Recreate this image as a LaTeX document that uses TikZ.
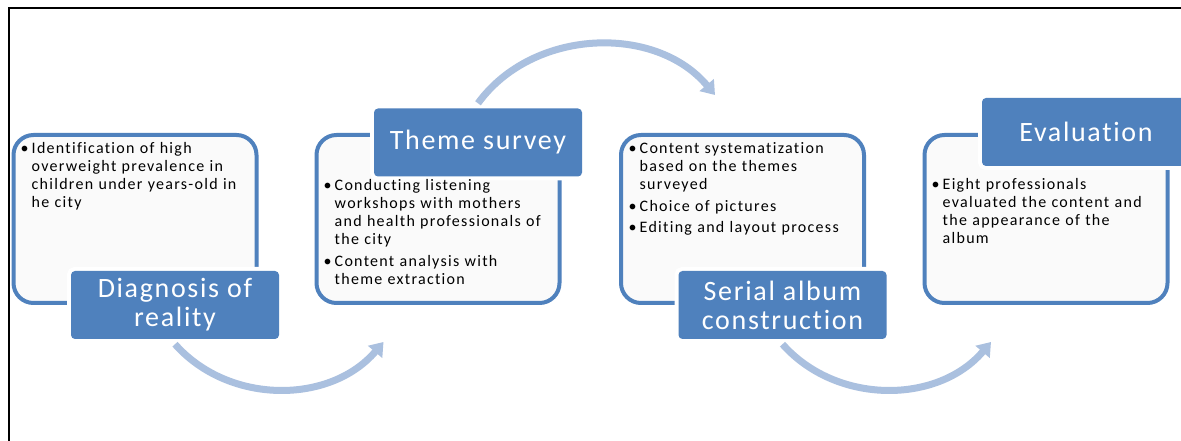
\documentclass[tikz,border=0pt]{standalone}
\usepackage{fontspec}
\usetikzlibrary{arrows.meta, positioning}
\definecolor{stepblue}{RGB}{79, 129, 189}
\definecolor{flowblue}{RGB}{170, 192, 223}
\definecolor{panelfill}{RGB}{250, 250, 250}
\newfontfamily\bodyfont[LetterSpace=8, RawFeature=-liga]{Carlito}
\newfontfamily\headfont[LetterSpace=6, RawFeature=-liga]{Carlito}
\newcommand{\blt}{\makebox[11pt][l]{\textbullet}}
\newcommand{\ind}{\hspace*{11pt}}

\begin{document}
\begin{tikzpicture}[x=1pt, y=1pt,
  panel/.style={draw=stepblue, line width=4pt, fill=panelfill, rounded corners=20pt,
    minimum width=243pt, minimum height=168pt},
  heading/.style={fill=stepblue, rounded corners=4pt, preaction={draw=white, line width=8pt},
    minimum width=208pt, minimum height=68pt, inner sep=0pt, text=white, align=center,
    font=\headfont\fontsize{28}{29}\selectfont},
  bullets/.style={anchor=base west, inner sep=0pt, text width=240pt, align=left,
    font=\bodyfont\fontsize{16}{18}\selectfont},
  flow/.style={draw=flowblue, line width=7pt, -{Triangle[length=13pt, width=18pt]}}]
  \useasboundingbox (0, 0) rectangle (1181, 441);
  \fill[white] (0, 0) rectangle (1181, 441);

  % Frame
  \draw[line width=2pt] (8.5, 0) -- (8.5, 432.5) -- (1181, 432.5);

  % Panels
  \foreach \n/\x in {1/135, 2/438, 3/742.5, 4/1046} {
    \node[panel] (box\n) at (\x, 222) {};
  }

  % Headings
  \node[heading] (t1) at ([xshift=40]box1.south) {Diagnosis of\\reality};
  \node[heading] (t2) at ([shift={(40, -9.5)}]box2.north) {Theme survey};
  \node[heading] (t3) at ([xshift=40]box3.south) {Serial album\\construction};
  \node[heading] (t4) at ([shift={(40, 1)}]box4.north) {Evaluation};

  % Bullet texts
  \node[bullets] (b1) at ([shift={(9, -21)}]box1.north west) {%
    \blt Identification of high\\
    \ind overweight prevalence in\\
    \ind children under years-old in\\
    \ind he city};
  \node[bullets] (b2) at ([shift={(9, -58)}]box2.north west) {%
    \blt Conducting listening\\
    \ind workshops with mothers\\
    \ind and health professionals of\\
    \ind the city\\[3.5pt]
    \blt Content analysis with\\
    \ind theme extraction};
  \node[bullets] (b3) at ([shift={(9.5, -21)}]box3.north west) {%
    \blt Content systematization\\
    \ind based on the themes\\
    \ind surveyed\\[3.5pt]
    \blt Choice of pictures\\[3.5pt]
    \blt Editing and layout process};
  \node[bullets] (b4) at ([shift={(9, -57)}]box4.north west) {%
    \blt Eight professionals\\
    \ind evaluated the content and\\
    \ind the appearance of the\\
    \ind album};

  % Curved arrows
  \coordinate (a1end) at ([shift={(69, -37)}]box2.south west);
  \coordinate (a2end) at ([shift={(96, 38)}]box3.north west);
  \coordinate (a3end) at ([shift={(68.5, -37)}]box4.south west);
  \draw[flow] ([yshift=-5]t1.south) to[bend right=49] (a1end);
  \draw[flow] ([yshift=5]t2.north) to[bend left=52] (a2end);
  \draw[flow] ([yshift=-5]t3.south) to[bend right=49] (a3end);
\end{tikzpicture}
\end{document}
